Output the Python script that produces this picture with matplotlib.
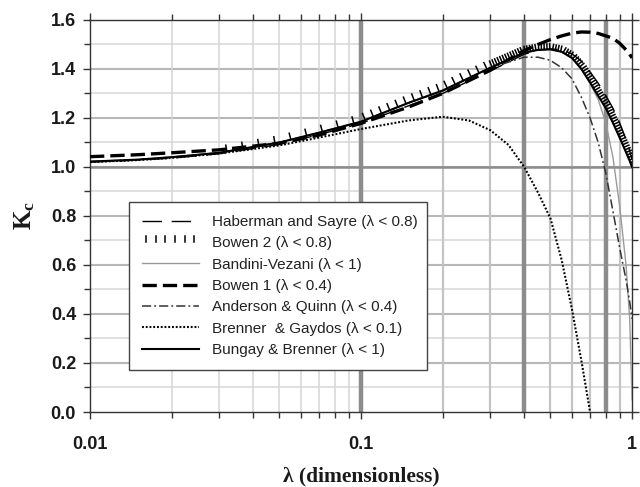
#!/usr/bin/env python3
# Kc vs lambda: confronto tra le correlazioni per il fattore di impedimento convettivo
import matplotlib
matplotlib.use('Agg')
import matplotlib.pyplot as plt
from matplotlib import patheffects
from matplotlib.ticker import LogLocator, MultipleLocator, FixedLocator, NullFormatter, FormatStrFormatter

plt.rcParams['font.family'] = ['Liberation Sans', 'DejaVu Sans']
plt.rcParams['mathtext.fontset'] = 'custom'
plt.rcParams['mathtext.bf'] = 'Liberation Serif:bold'
plt.rcParams['mathtext.rm'] = 'Liberation Serif'

# --- Dati ---
lam = [0.01, 0.015, 0.02, 0.03, 0.05, 0.07, 0.1, 0.15, 0.2, 0.3, 0.4, 0.45,
       0.5, 0.55, 0.6, 0.65, 0.7, 0.75, 0.8, 0.85, 0.9, 0.95, 0.98, 1.0]

haberman = [1.020, 1.028, 1.036, 1.054, 1.092, 1.132, 1.178, 1.250, 1.300, 1.392, 1.460, 1.476,
            1.482, 1.478, 1.462, 1.432, 1.388, 1.342, 1.292, 1.240, 1.180, 1.112, 1.066, 1.030]
bowen2 = [1.022, 1.031, 1.040, 1.059, 1.102, 1.142, 1.188, 1.266, 1.318, 1.410, 1.470, 1.480,
          1.481, 1.471, 1.446, 1.402, 1.347, 1.292, 1.242, 1.182, 1.122, 1.062, 1.027, 1.002]
bandini = [1.022, 1.030, 1.040, 1.058, 1.100, 1.140, 1.185, 1.262, 1.312, 1.405, 1.466, 1.478,
           1.480, 1.470, 1.445, 1.400, 1.340, 1.275, 1.180, 1.040, 0.840, 0.600, 0.380, 0.050]
bowen1 = [1.042, 1.050, 1.058, 1.070, 1.097, 1.130, 1.178, 1.245, 1.300, 1.395, 1.475, 1.500,
          1.520, 1.535, 1.546, 1.551, 1.550, 1.545, 1.535, 1.525, 1.505, 1.478, 1.460, 1.445]
anderson = [1.022, 1.030, 1.040, 1.058, 1.100, 1.140, 1.185, 1.262, 1.310, 1.405, 1.448, 1.448,
            1.435, 1.405, 1.360, 1.285, 1.200, 1.100, 0.975, 0.820, 0.670, 0.540, 0.450, 0.380]
bungay = [1.022, 1.030, 1.040, 1.058, 1.100, 1.140, 1.185, 1.262, 1.312, 1.405, 1.466, 1.478,
          1.480, 1.470, 1.445, 1.400, 1.345, 1.290, 1.240, 1.180, 1.120, 1.060, 1.025, 1.000]

lam_bg = [0.01, 0.015, 0.02, 0.03, 0.05, 0.07, 0.1, 0.15, 0.2, 0.25, 0.3, 0.35, 0.4,
          0.45, 0.5, 0.55, 0.6, 0.65, 0.7]
brenner = [1.020, 1.028, 1.037, 1.055, 1.088, 1.120, 1.155, 1.190, 1.205, 1.190, 1.150, 1.090, 1.000,
           0.895, 0.790, 0.620, 0.420, 0.210, 0.000]

labels = ['Haberman and Sayre (λ < 0.8)', 'Bowen 2 (λ < 0.8)', 'Bandini-Vezani (λ < 1)',
          'Bowen 1 (λ < 0.4)', 'Anderson & Quinn (λ < 0.4)', 'Brenner  & Gaydos (λ < 0.1)',
          'Bungay & Brenner (λ < 1)']

# limiti di validita' (linee verticali spesse) e riferimento Kc = 1
lambda_limits = [0.1, 0.4, 0.8]
kc_ref = 1.0

fig = plt.figure(figsize=(6.4, 4.87), dpi=100)
ax = fig.add_axes([0.1406, 0.154, 0.847, 0.805])

# --- Griglia ---
for y in [i / 10 for i in range(1, 16)]:
    if round(y * 10) % 2 == 0:
        ax.axhline(y, color='#b8b8b8', lw=1.5, zorder=0)
    else:
        ax.axhline(y, color='#dadada', lw=1.2, zorder=0)
for dec, col, lw in [(0.01, '#d6d6d6', 1.1), (0.1, '#c4c4c4', 1.6)]:
    for m in range(2, 10):
        ax.axvline(dec * m, color=col, lw=lw, zorder=0)
for xl in lambda_limits:
    ax.axvline(xl, color='#8c8c8c', lw=3.2, zorder=1)
ax.axhline(kc_ref, color='#8c8c8c', lw=1.8, zorder=1)

# --- Curve ---
ax.plot(lam, haberman, color='black', lw=1.0, dashes=(14, 7), label=labels[0], zorder=3)

# Bowen 2: solo trattini verticali, piu' fitti verso lambda alti (come nell'originale)
b2_parts = [(3, 7, 11, 0.4, None), (6, 10, 6, 0.75, labels[1]), (9, len(lam), 2, 1.9, None)]
for i0, i1, sp, ln, lab in b2_parts:
    ax.plot(lam[i0:i1], bowen2[i0:i1], color='black', lw=1.1, zorder=4,
            label=lab if lab else '_nolegend_',
            path_effects=[patheffects.TickedStroke(spacing=sp, angle=90, length=ln)])

ax.plot(lam, bandini, color='#9a9a9a', lw=1.0, label=labels[2], zorder=3)
ax.plot(lam, bowen1, color='black', lw=2.4, dashes=(4.3, 1.8), label=labels[3], zorder=3)
ax.plot(lam, anderson, color='#333333', lw=1.1, dashes=(6, 2, 1.2, 2), label=labels[4], zorder=3)
ax.plot(lam_bg, brenner, color='black', lw=1.5, dashes=(0.9, 0.9), label=labels[5], zorder=3)
ax.plot(lam, bungay, color='black', lw=1.5, label=labels[6], zorder=3)

# --- Assi ---
ax.set_xscale('log')
ax.set_xlim(0.01, 1)
ax.set_ylim(0, 1.6)
ax.xaxis.set_major_locator(FixedLocator([0.01, 0.1, 1]))
ax.set_xticklabels(['0.01', '0.1', '1'])
ax.xaxis.set_minor_locator(LogLocator(base=10, subs=range(2, 10)))
ax.xaxis.set_minor_formatter(NullFormatter())
ax.yaxis.set_major_locator(MultipleLocator(0.2))
ax.yaxis.set_minor_locator(MultipleLocator(0.1))
ax.yaxis.set_major_formatter(FormatStrFormatter('%.1f'))

for s in ax.spines.values():
    s.set_color('#333333')
    s.set_linewidth(1.0)
ax.tick_params(which='both', direction='out', top=True, right=True, color='#333333', width=1.0)
ax.tick_params(which='major', length=5)
ax.tick_params(which='minor', length=4)
ax.tick_params(axis='y', which='major', labelsize=13, pad=5)
ax.tick_params(axis='x', which='major', labelsize=13, pad=12)
for t in ax.get_xticklabels() + ax.get_yticklabels():
    t.set_fontweight('bold')
    t.set_color('#1a1a1a')

ax.set_xlabel('λ (dimensionless)', family='Liberation Serif', fontweight='bold', fontsize=15.5,
              labelpad=10, color='#1a1a1a')
ax.set_ylabel(r'$\mathbf{K_c}$', fontsize=18, labelpad=10, color='#1a1a1a')

# --- Legenda ---
handles, labs = ax.get_legend_handles_labels()
order = [labs.index(l) for l in labels]
leg = ax.legend([handles[i] for i in order], [labs[i] for i in order],
                loc='upper left', bbox_to_anchor=(0.072, 0.115, 0.55, 0.421), mode='expand',
                fontsize=11, frameon=True, fancybox=False, framealpha=1, edgecolor='#444444',
                handlelength=3.7, handletextpad=0.9, labelspacing=0.48, borderpad=0.85,
                borderaxespad=0)
leg.get_frame().set_linewidth(1.0)
for t in leg.get_texts():
    t.set_color('#222222')

fig.savefig('out.png', dpi=100)
